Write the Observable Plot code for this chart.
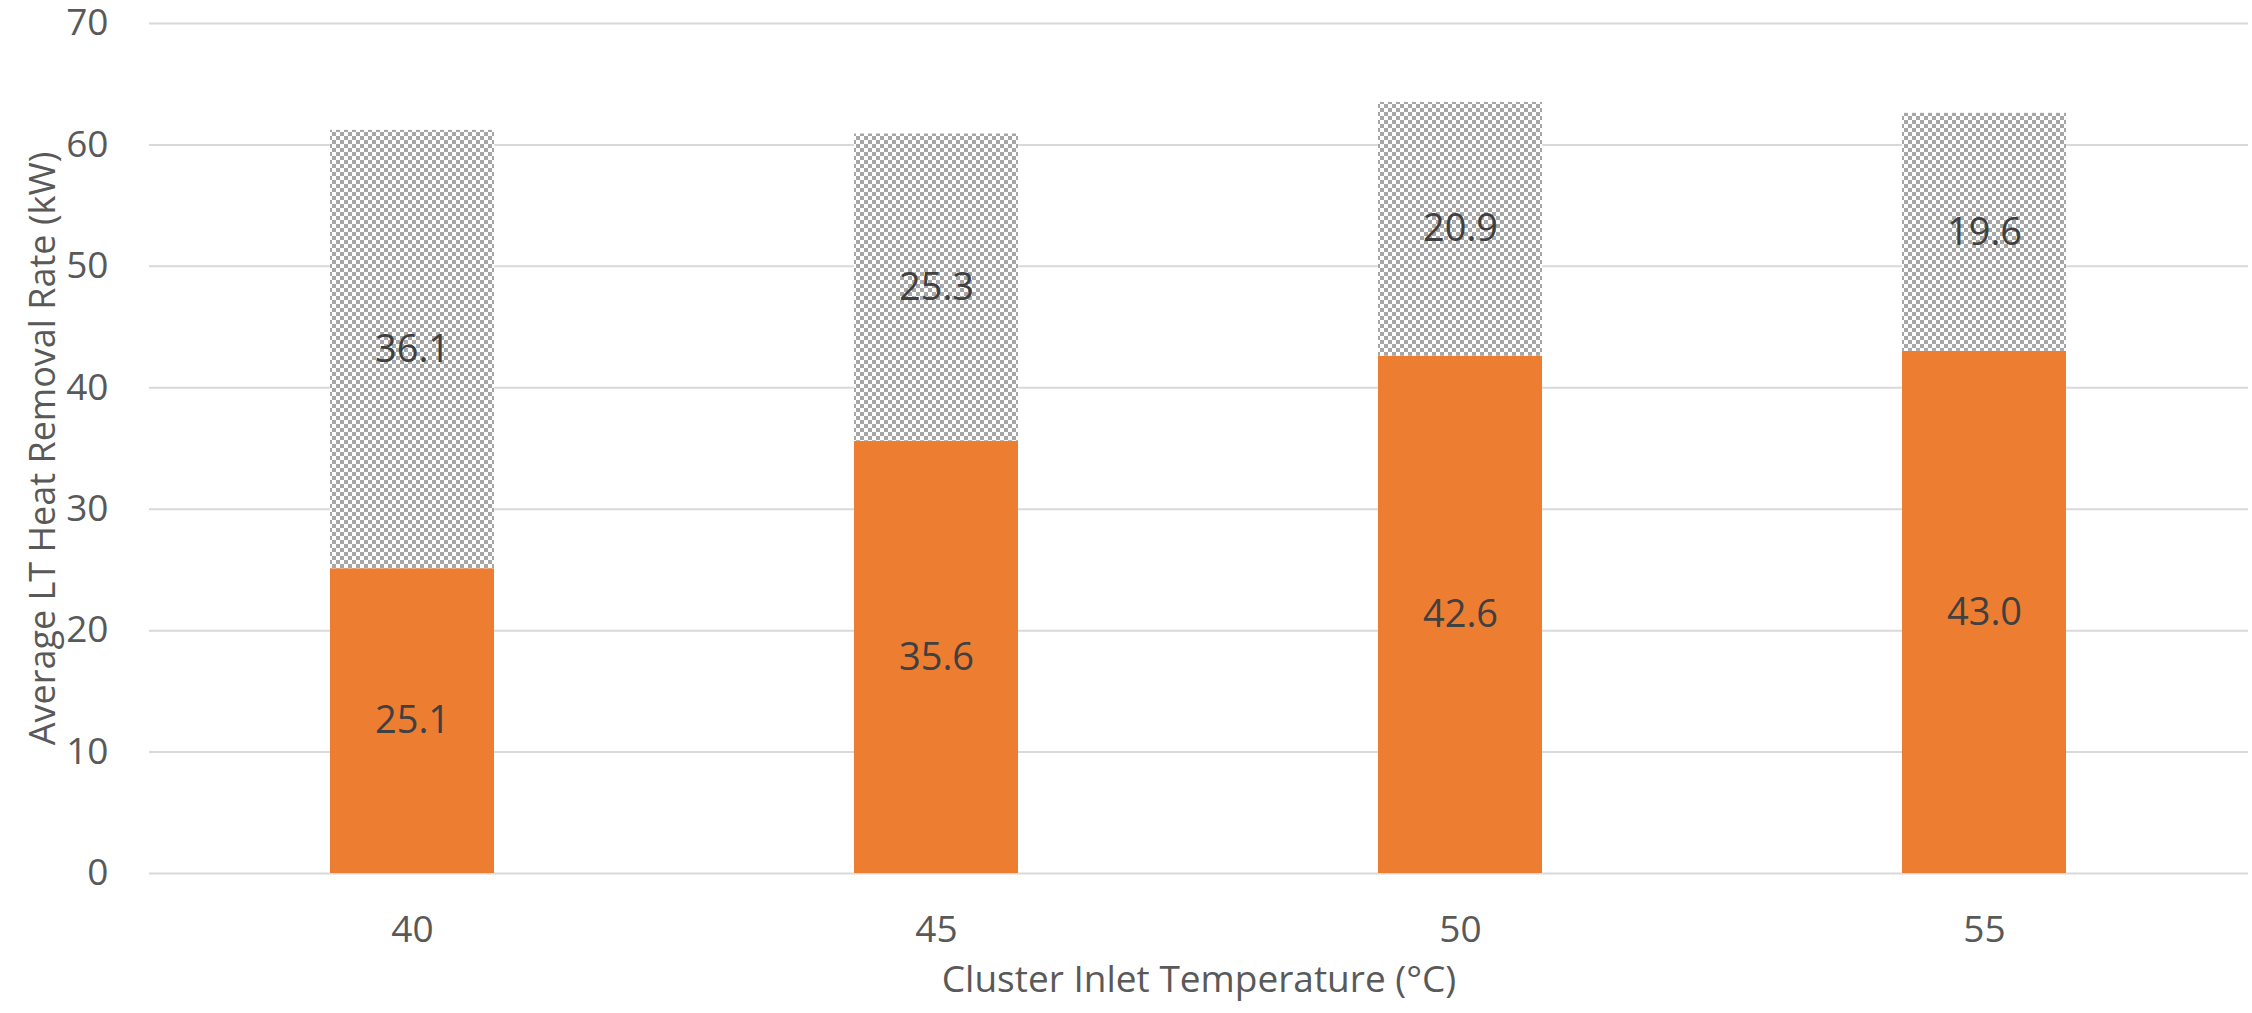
<!DOCTYPE html>
<html>
<head>
<meta charset="utf-8">
<script src="https://cdn.jsdelivr.net/npm/d3@7"></script>
<script src="https://cdn.jsdelivr.net/npm/@observablehq/plot@0.6"></script>
<style>
  html, body { margin: 0; padding: 0; background: #ffffff; }
</style>
</head>
<body>
<div id="chart"></div>
<script>
const temperatures = ["40", "45", "50", "55"];
const orangeValues = [25.1, 35.6, 42.6, 43.0];
const grayValues = [36.1, 25.3, 20.9, 19.6];
const seriesNames = ["Solid", "Pattern"];
const yTicks = [0, 10, 20, 30, 40, 50, 60, 70];
const xTitle = "Cluster Inlet Temperature (°C)";
const yTitle = "Average LT Heat Removal Rate (kW)";

const rows = [];
temperatures.forEach((t, i) => {
  rows.push({temp: t, series: seriesNames[0], value: orangeValues[i], mid: orangeValues[i] / 2});
  rows.push({temp: t, series: seriesNames[1], value: grayValues[i], mid: orangeValues[i] + grayValues[i] / 2});
});

const chart = Plot.plot({
  width: 2252,
  height: 1013,
  marginLeft: 149,
  marginRight: 4,
  marginTop: 23,
  marginBottom: 140,
  style: {fontFamily: "'Open Sans', sans-serif", fontSize: "36px", color: "#595959", background: "#ffffff"},
  x: {domain: temperatures, paddingInner: 0.687, paddingOuter: 0.3435, label: null},
  y: {domain: [0, 70], label: null},
  color: {domain: seriesNames, range: ["#ed7d31", "url(#checker)"]},
  marks: [
    Plot.gridY(yTicks, {stroke: "#d9d9d9", strokeOpacity: 1, strokeWidth: 2}),
    Plot.barY(rows, Plot.stackY({x: "temp", y: "value", fill: "series", order: seriesNames})),
    Plot.text(rows, {x: "temp", y: "mid", text: d => d.value.toFixed(1), fill: "#404040", fontSize: 38}),
    Plot.axisY(yTicks, {tickSize: 0, tickPadding: 41, label: null, fill: "#595959", fontSize: 37}),
    Plot.axisX({tickSize: 0, tickPadding: 42, label: null, fill: "#595959", fontSize: 37}),
    Plot.text([xTitle], {frameAnchor: "bottom", dy: 118, fill: "#595959", fontSize: 37}),
    Plot.text([yTitle], {frameAnchor: "left", textAnchor: "middle", dx: -106, rotate: -90, fill: "#595959", fontSize: 36})
  ]
});

const svgEl = chart.tagName.toLowerCase() === "svg" ? chart : chart.querySelector("svg");
const defs = d3.select(svgEl).insert("defs", ":first-child");
const pat = defs.append("pattern")
  .attr("id", "checker")
  .attr("patternUnits", "userSpaceOnUse")
  .attr("width", 8)
  .attr("height", 8);
pat.append("rect").attr("width", 8).attr("height", 8).attr("fill", "#ffffff");
pat.append("rect").attr("x", 0).attr("y", 0).attr("width", 4).attr("height", 4).attr("fill", "#a6a6a6");
pat.append("rect").attr("x", 4).attr("y", 4).attr("width", 4).attr("height", 4).attr("fill", "#a6a6a6");

document.getElementById("chart").appendChild(chart);
</script>
</body>
</html>
